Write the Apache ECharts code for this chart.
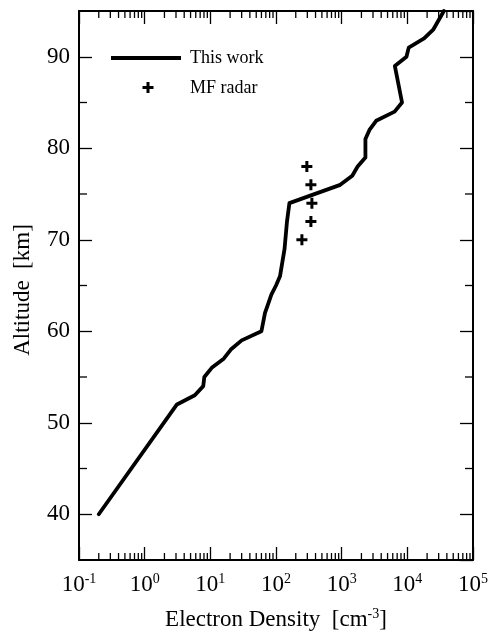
<!DOCTYPE html>
<html>
<head>
<meta charset="utf-8">
<script src="https://cdn.jsdelivr.net/npm/echarts@6/dist/echarts.min.js"></script>
<style>
html,body{margin:0;padding:0;background:#fff;}
#chart{width:494px;height:632px;}
</style>
</head>
<body>
<div id="chart"></div>
<script>
// ---- data ----
var workAltitude = [40, 52, 53, 54, 55, 56, 57, 58, 59, 60, 62, 63, 64, 65, 66, 69, 72, 74, 76, 77, 78, 79, 81, 82, 83, 84, 85, 89, 90, 91, 92, 93, 95];
var workDensity  = [0.2, 3.1, 5.8, 7.8, 8.1, 10.5, 16, 20.5, 30, 60, 68, 76, 85, 100, 115, 135, 147, 160, 950, 1450, 1750, 2300, 2300, 2650, 3350, 6400, 8300, 6450, 9700, 10500, 18000, 25000, 36000];
var radarAltitude = [70, 72, 74, 76, 78];
var radarDensity  = [248, 340, 352, 340, 295];
var xTickExponents = [-1, 0, 1, 2, 3, 4, 5];
var yTickLabels = [40, 50, 60, 70, 80, 90];
var yMinorTicks = [45, 55, 65, 75, 85];
var seriesNames = ['This work', 'MF radar'];
var xTitle = 'Electron Density  [cm';
var yTitle = 'Altitude  [km]';

var X_MIN = 0.1, X_MAX = 1e5, Y_MIN = 35, Y_MAX = 95;
var FONT = '"Liberation Serif", "Times New Roman", serif';

var xMinorTicks = [];
for (var e = xTickExponents[0]; e < xTickExponents[xTickExponents.length - 1]; e++) {
  for (var m = 2; m <= 9; m++) xMinorTicks.push([m * Math.pow(10, e), Y_MIN]);
}
var yMinorData = yMinorTicks.map(function (v) { return [X_MIN, v]; });

var workData = workAltitude.map(function (a, i) { return [workDensity[i], a]; });
var radarData = radarAltitude.map(function (a, i) { return [radarDensity[i], a]; });

var plusPath = 'path://M4,0H7V4H11V7H7V11H4V7H0V4H4Z';
var tickStyle = { stroke: '#000', lineWidth: 1.3 };

function plusPoints(cx, cy) {
  var a = 5.5, w = 1.5;
  return [[cx - w, cy - a], [cx + w, cy - a], [cx + w, cy - w], [cx + a, cy - w], [cx + a, cy + w],
          [cx + w, cy + w], [cx + w, cy + a], [cx - w, cy + a], [cx - w, cy + w], [cx - a, cy + w],
          [cx - a, cy - w], [cx - w, cy - w]];
}

var chart = echarts.init(document.getElementById('chart'), null, { renderer: 'canvas' });

var axisLine = { show: true, lineStyle: { color: '#000', width: 2 } };

chart.setOption({
  animation: false,
  backgroundColor: '#fff',
  grid: { left: 79, right: 21, top: 11, bottom: 72, containLabel: false },
  xAxis: [{
    type: 'log', logBase: 10, min: X_MIN, max: X_MAX, position: 'bottom',
    axisLine: axisLine,
    axisTick: { show: true, inside: true, length: 13, lineStyle: { color: '#000', width: 1.3 } },
    splitLine: { show: false },
    axisLabel: {
      margin: 12, color: '#000', fontFamily: FONT, fontSize: 23,
      formatter: function (v) {
        var ex = Math.round(Math.log(v) / Math.LN10);
        return '{b|10}{s|' + ex + '}';
      },
      rich: {
        b: { fontFamily: FONT, fontSize: 23, color: '#000' },
        s: { fontFamily: FONT, fontSize: 14, color: '#000', padding: [0, 0, 12, 0] }
      }
    }
  }, {
    type: 'log', logBase: 10, min: X_MIN, max: X_MAX, position: 'top',
    axisLine: axisLine,
    axisTick: { show: true, inside: true, length: 13, lineStyle: { color: '#000', width: 1.3 } },
    axisLabel: { show: false },
    splitLine: { show: false }
  }],
  yAxis: [{
    type: 'value', min: Y_MIN, max: Y_MAX, splitNumber: 6, position: 'left',
    axisLine: axisLine,
    axisTick: { show: true, inside: true, length: 13, lineStyle: { color: '#000', width: 1.3 } },
    splitLine: { show: false },
    axisLabel: {
      margin: 9, color: '#000', fontFamily: FONT, fontSize: 23,
      showMinLabel: false, showMaxLabel: false,
      formatter: function (v) { return yTickLabels.indexOf(v) >= 0 ? String(v) : ''; }
    }
  }, {
    type: 'value', min: Y_MIN, max: Y_MAX, splitNumber: 6, position: 'right',
    axisLine: axisLine,
    axisTick: { show: true, inside: true, length: 13, lineStyle: { color: '#000', width: 1.3 } },
    axisLabel: { show: false },
    splitLine: { show: false }
  }],
  series: [{
    name: seriesNames[0], type: 'line', data: workData,
    xAxisIndex: 0, yAxisIndex: 0,
    showSymbol: false, symbol: 'none', smooth: false,
    lineStyle: { color: '#000', width: 3.8, join: 'round', cap: 'round' },
    clip: true, z: 5
  }, {
    name: seriesNames[1], type: 'scatter', data: radarData,
    xAxisIndex: 0, yAxisIndex: 0,
    symbol: plusPath, symbolSize: 11,
    itemStyle: { color: '#000', opacity: 1 }, z: 6
  }, {
    type: 'custom', silent: true, clip: false,
    xAxisIndex: 0, yAxisIndex: 0,
    data: xMinorTicks,
    renderItem: function (params, api) {
      var v = api.value(0);
      var b = api.coord([v, Y_MIN]);
      var t = api.coord([v, Y_MAX]);
      return { type: 'group', children: [
        { type: 'line', shape: { x1: b[0], y1: b[1], x2: b[0], y2: b[1] - 7 }, style: tickStyle },
        { type: 'line', shape: { x1: t[0], y1: t[1], x2: t[0], y2: t[1] + 7 }, style: tickStyle }
      ] };
    }
  }, {
    type: 'custom', silent: true, clip: false,
    xAxisIndex: 0, yAxisIndex: 0,
    data: yMinorData,
    renderItem: function (params, api) {
      var v = api.value(1);
      var l = api.coord([X_MIN, v]);
      var r = api.coord([X_MAX, v]);
      return { type: 'group', children: [
        { type: 'line', shape: { x1: l[0], y1: l[1], x2: l[0] + 8, y2: l[1] }, style: tickStyle },
        { type: 'line', shape: { x1: r[0], y1: r[1], x2: r[0] - 8, y2: r[1] }, style: tickStyle }
      ] };
    }
  }],
  graphic: [
    { type: 'line', shape: { x1: 111, y1: 58, x2: 181, y2: 58 }, style: { stroke: '#000', lineWidth: 4 } },
    { type: 'text', x: 190, y: 58, style: { text: seriesNames[0], font: '18px ' + FONT, fill: '#000', verticalAlign: 'middle' } },
    { type: 'polygon', shape: { points: plusPoints(148, 87.5) }, style: { fill: '#000' } },
    { type: 'text', x: 190, y: 88, style: { text: seriesNames[1], font: '18px ' + FONT, fill: '#000', verticalAlign: 'middle' } },
    { type: 'text', x: 276, y: 620, style: {
        text: '{t|' + xTitle + '}{s|-3}{t|]}',
        align: 'center', verticalAlign: 'middle',
        rich: {
          t: { fontFamily: FONT, fontSize: 23, color: '#000' },
          s: { fontFamily: FONT, fontSize: 14, color: '#000', padding: [0, 0, 12, 0] }
        }
      } },
    { type: 'text', x: 23, y: 290, rotation: Math.PI / 2, style: {
        text: yTitle, align: 'center', verticalAlign: 'middle',
        font: '23px ' + FONT, fill: '#000'
      } }
  ]
});
</script>
</body>
</html>
